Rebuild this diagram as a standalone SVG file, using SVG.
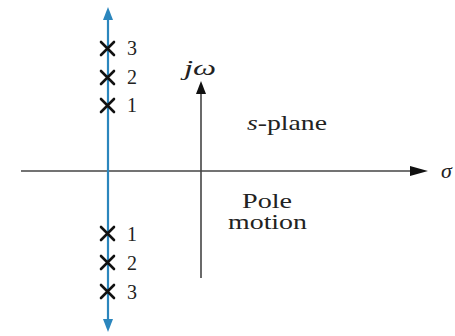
<svg xmlns="http://www.w3.org/2000/svg" width="455" height="336" viewBox="0 0 455 336">
<style>
.ax{stroke:#444;stroke-width:1.6;fill:none}
.bl{stroke:#2b86bd;stroke-width:2.2;fill:none}
.x{stroke:#111;stroke-width:2.6;stroke-linecap:round}
text{fill:#222}
.n{font-family:"Liberation Serif","Times New Roman",serif;font-size:20px}
.t{font-family:"Liberation Serif","Times New Roman",serif}
</style>
<rect width="455" height="336" fill="#fff"/>
<g id="connectors">
<line class="ax" x1="21" y1="171" x2="412" y2="171"/>
<path d="M410,166 L428,171 L410,176 Z" fill="#111"/>
<line class="ax" x1="201" y1="278" x2="201" y2="93"/>
<path d="M196,94 L201,81 L206,94 Z" fill="#111"/>
<line class="bl" x1="108" y1="320" x2="108" y2="18"/>
<path d="M103,20 L108,7 L113,20 Z" fill="#2b86bd"/>
<path d="M103,319 L108,332 L113,319 Z" fill="#2b86bd"/>
</g>
<g id="upper-poles">
<path class="x" d="M101,42 L114,55 M114,42 L101,55"/>
<path class="x" d="M101,71 L114,84 M114,71 L101,84"/>
<path class="x" d="M101,99 L114,112 M114,99 L101,112"/>
<text class="n" x="127" y="55">3</text>
<text class="n" x="127" y="84">2</text>
<text class="n" x="127" y="112">1</text>
</g>
<g id="lower-poles">
<path class="x" d="M101,227 L114,240 M114,227 L101,240"/>
<path class="x" d="M101,256 L114,269 M114,256 L101,269"/>
<path class="x" d="M101,285 L114,298 M114,285 L101,298"/>
<text class="n" x="127" y="241">1</text>
<text class="n" x="127" y="270">2</text>
<text class="n" x="127" y="299">3</text>
</g>
<g id="labels" class="t">
<text class="t" x="184" y="75" font-size="20" font-style="italic" textLength="32" lengthAdjust="spacingAndGlyphs">jω</text>
<text class="t" x="247" y="130" font-size="21" textLength="80" lengthAdjust="spacingAndGlyphs"><tspan font-style="italic">s</tspan>-plane</text>
<text class="t" x="441" y="178" font-size="22" font-style="italic">σ</text>
<text class="t" x="242" y="208" font-size="20" textLength="50" lengthAdjust="spacingAndGlyphs">Pole</text>
<text class="t" x="228" y="229" font-size="20" textLength="79" lengthAdjust="spacingAndGlyphs">motion</text>
</g>
</svg>
